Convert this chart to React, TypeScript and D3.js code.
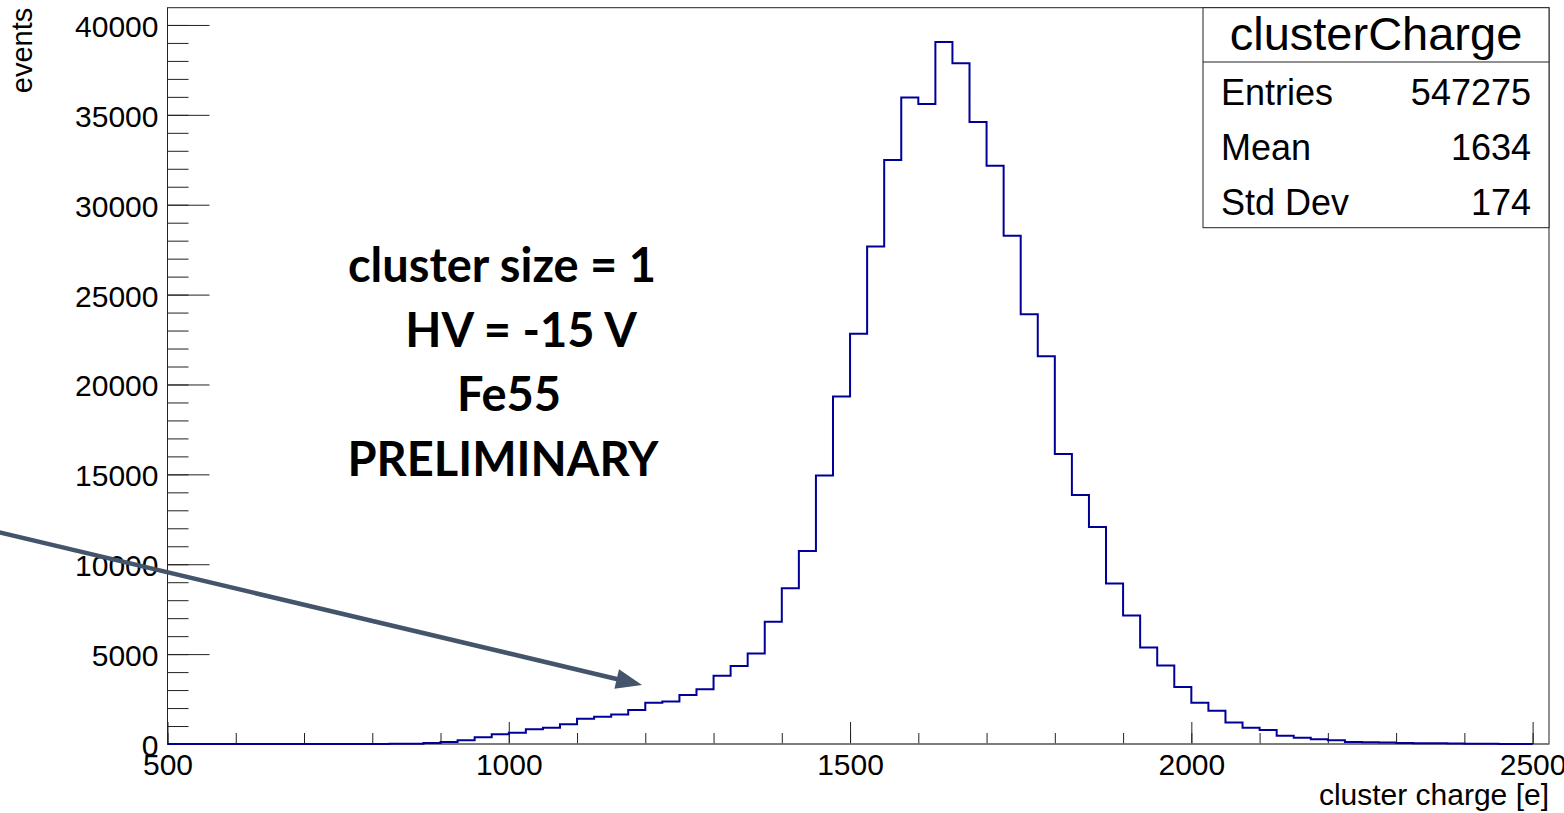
import React, { useEffect, useRef } from "react";
import * as d3 from "d3";

// Histogram binning (cluster charge in electrons)
const binStart = 500;
const binWidth = 25;
const counts: number[] = [
  0, 0, 0, 0, 0, 0, 0, 0, 0, 0, 0, // 500 – 775
  2, 5, 10, 20, 60, 110, 210, 370, 540, // 775 – 1000
  630, 815, 900, 1100, 1400, 1520, 1640, 1890, // 1000 – 1200
  2300, 2360, 2730, 3040, 3790, 4340, 5030, 6800, // 1200 – 1400
  8670, 10740, 14930, 19330, // 1400 – 1500
  22820, 27670, 32490, 35960, 35600, 39050, 37870, 34600, // 1500 – 1700
  32170, 28280, 23910, 21570, 16130, 13850, 12070, 8930, // 1700 – 1900
  7150, 5370, 4360, 3175, // 1900 – 2000
  2300, 1855, 1190, 910, 780, 465, 350, 260, // 2000 – 2200
  205, 110, 95, 80, 60, 45, 35, 25, // 2200 – 2400
  15, 10, 6, 3, // 2400 – 2500
];

const xMajorTicks = [500, 1000, 1500, 2000, 2500];
const xMinorTicks = d3.range(500, 2501, 100);
const yMajorTicks = [0, 5000, 10000, 15000, 20000, 25000, 30000, 35000, 40000];
const yMinorTicks = d3.range(0, 40001, 1000);

const statsTitle = "clusterCharge";
const statsRows: [string, string][] = [
  ["Entries", "547275"],
  ["Mean", "1634"],
  ["Std Dev", "174"],
];

const noteLines = ["cluster size = 1", "HV = -15 V", "Fe55", "PRELIMINARY"];

const xAxisTitle = "cluster charge [e]";
const yAxisTitle = "events";

const W = 1564;
const H = 813;
const frame = { left: 167.5, right: 1549, top: 7.7, bottom: 744 };
const xDomain: [number, number] = [500, 2524];
const yDomain: [number, number] = [0, 40960];

const rootFont = "'Liberation Sans', Arial, Helvetica, sans-serif";
const noteFont = "Lato, 'Open Sans', sans-serif";
const histColor = "#000099";
const arrowColor = "#44546A";

export default function App() {
  const xAxisRef = useRef<SVGGElement>(null);
  const xMinorRef = useRef<SVGGElement>(null);
  const yAxisRef = useRef<SVGGElement>(null);
  const yMinorRef = useRef<SVGGElement>(null);

  const x = d3.scaleLinear().domain(xDomain).range([frame.left, frame.right]);
  const y = d3.scaleLinear().domain(yDomain).range([frame.bottom, frame.top]);

  // Step outline of the histogram
  const pts: [number, number][] = [[binStart, 0]];
  counts.forEach((c, i) => {
    const lo = binStart + i * binWidth;
    pts.push([lo, c], [lo + binWidth, c]);
  });
  pts.push([binStart + counts.length * binWidth, 0]);
  const histPath = d3
    .line<[number, number]>()
    .x((d) => x(d[0]))
    .y((d) => y(d[1]))(pts) as string;

  useEffect(() => {
    const style = (g: d3.Selection<SVGGElement, unknown, null, undefined>) => {
      g.select(".domain").remove();
      g.selectAll(".tick line").attr("stroke", "#222").attr("stroke-width", 1);
      g.selectAll(".tick text")
        .attr("fill", "#000")
        .style("font-family", rootFont)
        .style("font-size", "30px");
    };
    if (xAxisRef.current) {
      const g = d3.select(xAxisRef.current);
      g.call(
        d3
          .axisBottom(x)
          .tickValues(xMajorTicks)
          .tickSizeInner(-22)
          .tickSizeOuter(0)
          .tickPadding(10)
          .tickFormat(d3.format("d"))
      );
      style(g);
    }
    if (xMinorRef.current) {
      const g = d3.select(xMinorRef.current);
      g.call(
        d3
          .axisBottom(x)
          .tickValues(xMinorTicks)
          .tickSizeInner(-11)
          .tickSizeOuter(0)
          .tickFormat(() => "")
      );
      style(g);
    }
    if (yAxisRef.current) {
      const g = d3.select(yAxisRef.current);
      g.call(
        d3
          .axisLeft(y)
          .tickValues(yMajorTicks)
          .tickSizeInner(-42)
          .tickSizeOuter(0)
          .tickPadding(9)
          .tickFormat(d3.format("d"))
      );
      style(g);
      g.selectAll(".tick text").attr("dy", "0.38em");
    }
    if (yMinorRef.current) {
      const g = d3.select(yMinorRef.current);
      g.call(
        d3
          .axisLeft(y)
          .tickValues(yMinorTicks)
          .tickSizeInner(-21)
          .tickSizeOuter(0)
          .tickFormat(() => "")
      );
      style(g);
    }
  });

  // Annotation arrow
  const arrowStart: [number, number] = [-2, 532];
  const arrowTip: [number, number] = [642, 685];
  const ang = Math.atan2(arrowTip[1] - arrowStart[1], arrowTip[0] - arrowStart[0]);
  const headLen = 26;
  const headHalf = 10;
  const bx = arrowTip[0] - headLen * Math.cos(ang);
  const by = arrowTip[1] - headLen * Math.sin(ang);
  const head = [
    arrowTip,
    [bx + headHalf * Math.sin(ang), by - headHalf * Math.cos(ang)],
    [bx - headHalf * Math.sin(ang), by + headHalf * Math.cos(ang)],
  ]
    .map((p) => p.join(","))
    .join(" ");

  const statsBox = { x: 1203, y: frame.top, w: frame.right - 1203, h: 220 };
  const noteX = [502, 521, 509, 503];

  return (
    <svg
      width={W}
      height={H}
      viewBox={`0 0 ${W} ${H}`}
      style={{ position: "fixed", left: 0, top: 0, background: "#fff" }}
    >
      <rect x={0} y={0} width={W} height={H} fill="#fff" />
      <g ref={yMinorRef} transform={`translate(${frame.left},0)`} />
      <g ref={yAxisRef} transform={`translate(${frame.left},0)`} />
      <g ref={xMinorRef} transform={`translate(0,${frame.bottom})`} />
      <g ref={xAxisRef} transform={`translate(0,${frame.bottom})`} />

      <rect
        x={frame.left}
        y={frame.top}
        width={frame.right - frame.left}
        height={frame.bottom - frame.top}
        fill="none"
        stroke="#222"
        strokeWidth={1}
      />
      <line
        x1={frame.left}
        x2={frame.right}
        y1={frame.bottom}
        y2={frame.bottom}
        stroke="#777"
        strokeWidth={1.6}
      />

      <path d={histPath} fill="none" stroke={histColor} strokeWidth={2} />

      {/* axis titles */}
      <text
        transform={`translate(32,${frame.top}) rotate(-90)`}
        textAnchor="end"
        fontFamily={rootFont}
        fontSize={29}
        fill="#000"
      >
        {yAxisTitle}
      </text>
      <text
        x={frame.right}
        y={805}
        textAnchor="end"
        fontFamily={rootFont}
        fontSize={30}
        fill="#000"
      >
        {xAxisTitle}
      </text>

      {/* statistics box */}
      <rect
        x={statsBox.x}
        y={statsBox.y}
        width={statsBox.w}
        height={statsBox.h}
        fill="#fff"
        stroke="#222"
        strokeWidth={1}
      />
      <line
        x1={statsBox.x}
        x2={statsBox.x + statsBox.w}
        y1={62}
        y2={62}
        stroke="#222"
        strokeWidth={1}
      />
      <text
        x={statsBox.x + statsBox.w / 2}
        y={50}
        textAnchor="middle"
        fontFamily={rootFont}
        fontSize={47}
        fill="#000"
      >
        {statsTitle}
      </text>
      {statsRows.map(([k, v], i) => (
        <g key={k}>
          <text x={1221} y={105 + i * 55} fontFamily={rootFont} fontSize={36} fill="#000">
            {k}
          </text>
          <text
            x={1531}
            y={105 + i * 55}
            textAnchor="end"
            fontFamily={rootFont}
            fontSize={36}
            fill="#000"
          >
            {v}
          </text>
        </g>
      ))}

      {/* annotation */}
      {noteLines.map((t, i) => (
        <text
          key={t}
          x={noteX[i]}
          y={282 + i * 64.5}
          textAnchor="middle"
          fontFamily={noteFont}
          fontWeight={700}
          fontSize={47}
          fill="#000"
        >
          {t}
        </text>
      ))}
      <line
        x1={arrowStart[0]}
        y1={arrowStart[1]}
        x2={bx + 2 * Math.cos(ang)}
        y2={by + 2 * Math.sin(ang)}
        stroke={arrowColor}
        strokeWidth={4.5}
      />
      <polygon points={head} fill={arrowColor} />
    </svg>
  );
}
